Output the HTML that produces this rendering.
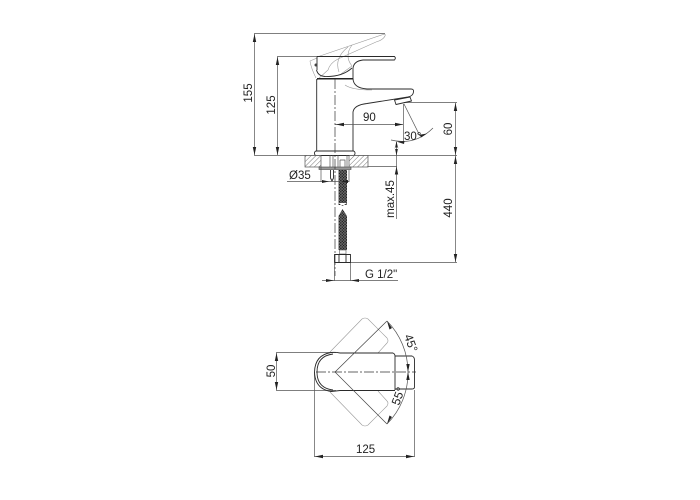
<!DOCTYPE html>
<html><head><meta charset="utf-8"><style>
html,body{margin:0;padding:0;background:#fff}
svg{display:block}
text{font-family:"Liberation Sans",sans-serif;font-size:11.5px;fill:#222}
.d{stroke:#555;stroke-width:.7;fill:none}
.o{stroke:#2a2a2a;stroke-width:.9;fill:none;stroke-linejoin:round}
.g{stroke:#999;stroke-width:.6;fill:none}
.c{stroke:#333;stroke-width:.7;fill:none;stroke-dasharray:10 2 2 2}
.a{fill:#222;stroke:none}
</style></head><body>
<svg width="700" height="500" viewBox="0 0 700 500" xmlns="http://www.w3.org/2000/svg">
<defs>
<pattern id="h" width="3.4" height="3.4" patternUnits="userSpaceOnUse" patternTransform="rotate(45)"><rect width="3.4" height="3.4" fill="#fff"/><line x1="0" y1="0" x2="0" y2="3.4" stroke="#555" stroke-width=".8"/></pattern>
<pattern id="m" width="2" height="2" patternUnits="userSpaceOnUse" patternTransform="rotate(45)"><rect width="2" height="2" fill="#777"/><rect width="1.300" height="1.300" fill="#111"/></pattern>
</defs>

<!-- extension lines side view -->
<path class="d" d="M254 33.500H385M254 155.500H457M277 56.500H317M404 102.500H457M350 262.500H457M351 166.500H397"/>
<path class="d" d="M254.500 34V155M277.500 57V155M455.500 103V155M455.500 155V262"/>
<path class="a" d="M254.500 34l-1.700 8h3.400zM254.500 155l-1.700-8h3.400zM277.500 57l-1.700 8h3.400zM277.500 155l-1.700-8h3.400zM455.500 103l-1.700 8h3.400zM455.500 155l-1.700-8h3.400zM455.500 156l-1.700 8h3.400zM455.500 262l-1.700-8h3.400z"/>
<text transform="translate(252,93) rotate(-90)" text-anchor="middle">155</text>
<text transform="translate(275,105) rotate(-90)" text-anchor="middle">125</text>
<text transform="translate(452,129) rotate(-90)" text-anchor="middle">60</text>
<text transform="translate(452,208) rotate(-90)" text-anchor="middle">440</text>

<!-- ghost handle -->
<path class="g" d="M317 57L383 34.500Q386 33.500 385 36Q383 40 376 42L338 59Q330 63 328 70L317 80M317 58L310 61Q311 68 316 78"/>
<path class="g" d="M348 47Q334 58 339 72M352 45Q344 56 352 66L341 74"/>
<path class="g" d="M345 85Q352 90 372 90"/>

<!-- faucet -->
<path class="o" d="M317 56.500H394.500Q396.200 58 394.500 60H363Q354 61 353 68V78Q353 88 367 89H411Q414 89 413.500 92Q413 96 408 97L367 103.500Q354 105 353 112V151M317 56.500V70"/>
<path class="o" d="M316.700 79V151M316.500 70Q318 76 325 76.500Q342 77 352 68"/>
<path d="M317 78.800H353" stroke="#222" stroke-width="1.500" fill="none"/>
<path class="o" d="M394.500 100L410 97 411.500 101 396 104.500Z"/>
<circle cx="316" cy="65" r="1.500" fill="#444"/>
<rect class="o" x="314.500" y="151" width="40.500" height="4.500" rx="2"/>

<!-- dims 90 / 30 -->
<path class="d" d="M335 124.500H403M403.500 104V141M404 104L420 136"/>
<path class="a" d="M336 124.500l8-1.700v3.400zM403 124.500l-8-1.700v3.400z"/>
<text x="363" y="121">90</text>
<path class="d" d="M391 140Q415 146 433 128"/>
<path class="a" d="M397 141.800l7.500-.8-.5 3zM427 133.500l-6 4-1.300-2.700z"/>
<text x="404" y="140">30°</text>

<!-- countertop -->
<rect x="305" y="155.500" width="16" height="11.500" fill="url(#h)" stroke="#555" stroke-width=".7"/>
<rect x="349" y="155.500" width="19" height="11.500" fill="url(#h)" stroke="#555" stroke-width=".7"/>
<path class="d" d="M330 155V168M333 155V168"/>
<rect x="319" y="167" width="32" height="2.500" fill="#999" stroke="#444" stroke-width=".6"/>
<path class="d" d="M338 155V167M347 155V167M340 160H345V167M340 160V167"/>
<path class="o" d="M330.500 170V178L332 181 333.500 178V170"/>
<!-- hose -->
<rect x="338.500" y="170" width="8.500" height="33" fill="url(#m)"/>
<path d="M338.500 203L342.500 206 347 203V205H338.500Z" fill="url(#m)"/>
<path d="M338.500 216L342.500 209 347 216V250H338.500Z" fill="url(#m)"/>
<rect x="339.500" y="250" width="6.500" height="4" fill="none" stroke="#555" stroke-width=".6"/>
<path class="o" d="M334.500 254.500H350.500V262.500H334.500ZM339 254.500V262.500M346 254.500V262.500"/>

<path class="c" d="M335 79V276"/>

<!-- O35 -->
<path class="d" d="M321 167V182M349 170V182M287 181.500H349"/>
<path class="a" d="M329 181.500l-7-1.500v3zM341 181.500l7-1.500v3z"/>
<text x="289" y="179">Ø35</text>

<!-- max 45 -->
<path class="d" d="M396.500 142V219"/>
<path class="a" d="M396.500 141l-1.700 8h3.400zM396.500 155.500l-1.700-8h3.400zM396.500 166.500l-1.700 8h3.400z"/>
<text transform="translate(394,199) rotate(-90)" text-anchor="middle">max.45</text>

<!-- G 1/2 -->
<path class="d" d="M334.500 263V281M350.500 263V281M322 280.500H398"/>
<path class="a" d="M334 280.500l-8-1.500v3zM351 280.500l8-1.500v3z"/>
<text x="365" y="278">G 1/2"</text>

<!-- top view -->
<path class="d" d="M276 352.500H336M276 390.500H336M276.500 353V390M314.500 372V457M414.500 390V457M314.500 456.500H414.500"/>
<path class="a" d="M276.500 353l-1.700 8h3.400zM276.500 390l-1.700-8h3.400zM315 456.500l8-1.700v3.400zM414 456.500l-8-1.700v3.400z"/>
<text transform="translate(275,371) rotate(-90)" text-anchor="middle">50</text>
<text x="356" y="453">125</text>

<path class="g" d="M330 352L362 319Q365 317 368 319L387 338Q389 341 387 343L378 353M330 392L362 425Q365 427 368 425L387 406Q389 403 387 401L378 391"/>
<path class="o" d="M393 353H340Q335 352 331 352.500Q315 355 314.500 372Q315 389 331 391.500Q336 391 340 390.500H395"/>
<path class="o" d="M333 354Q317 356 317 372Q317 388 333 390"/>
<path class="o" d="M393 353Q395 354 395 356V390M395 356H412Q414.500 357 414.500 360V387Q414.500 389 412 389H395"/>
<path d="M335 372L387 321M335 372L387 424" stroke="#444" stroke-width=".7" fill="none"/>
<path class="c" d="M316 372H416"/>
<path class="d" d="M387 321A73 73 0 0 1 408 372A73 73 0 0 1 387 424"/>
<path class="a" d="M387 321l5 7-2.500 1.500zM408 372l-1.700-8h3.400zM408 372l-1.700 8h3.400zM387 424l5-7-2.500-1.500z"/>
<text transform="translate(404,336) rotate(70)" style="font-size:12px">45°</text>
<text transform="translate(399,406) rotate(-70)" style="font-size:12px">55°</text>
</svg>
</body></html>
